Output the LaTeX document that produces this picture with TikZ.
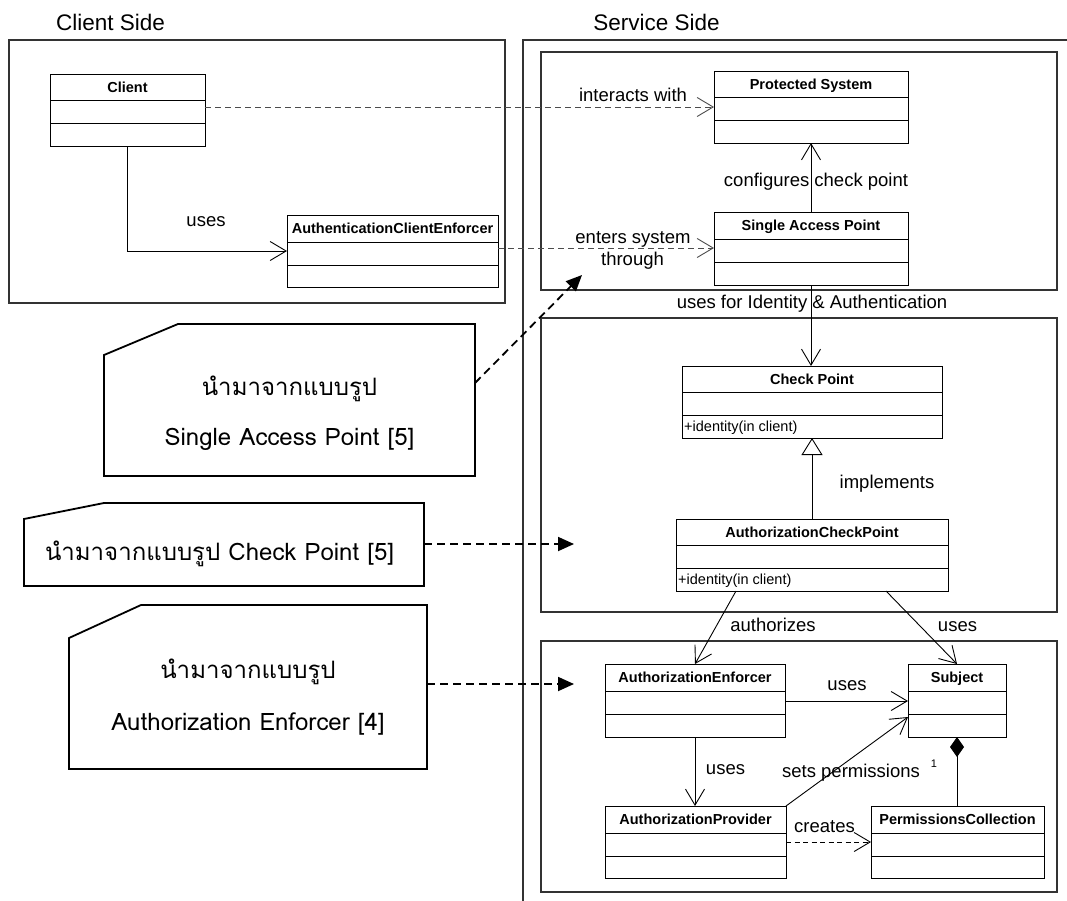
\documentclass[tikz,border=0pt]{standalone}
\usepackage{fontspec}
\setmainfont{Liberation Sans}
\newfontfamily\thaifont[Script=Thai]{Loma}
\usetikzlibrary{arrows.meta}

\tikzset{
  frame/.style={draw=black!80, line width=1.3pt},
  classbox/.style={draw=black, line width=1pt, rectangle, inner sep=0pt, outer sep=0pt},
  divider/.style={draw=black, line width=1pt},
  hdr/.style={font=\fontsize{14.5}{16}\selectfont\bfseries, inner sep=0pt, text height=10.4pt, text depth=0pt},
  opr/.style={font=\fontsize{14.5}{16}\selectfont, inner sep=0pt, anchor=west, text height=10.4pt, text depth=0pt},
  lbl/.style={font=\fontsize{18.5}{21}\selectfont, inner sep=0pt, text height=13.3pt, text depth=0pt},
  ttl/.style={font=\fontsize{22.5}{26}\selectfont, inner sep=0pt, text height=16pt, text depth=0pt},
  mult/.style={font=\fontsize{11}{13}\selectfont, inner sep=0pt},
  assoc/.style={draw=black, line width=0.9pt, -{Straight Barb[length=16pt,width=19pt]}},
  depend/.style={assoc, draw=black!70, dash pattern=on 6pt off 4pt},
  creates/.style={assoc, dash pattern=on 5pt off 3.5pt},
  generalize/.style={draw=black, line width=0.9pt, -{Triangle[open,length=17pt,width=21pt,fill=white]}},
  composite/.style={draw=black, line width=0.9pt, -{Diamond[length=20pt,width=14pt]}},
  notebox/.style={draw=black, line width=1.8pt, line join=miter},
  noteline/.style={draw=black, line width=1.8pt, dash pattern=on 8pt off 5pt, -{Triangle[length=16pt,width=14pt]}},
  notetext/.style={font=\thaifont\fontsize{24}{28}\selectfont, inner sep=0pt, anchor=base}
}

% UML class: name, x1, y1, x2, y2, first divider, second divider, title
\newcommand\umlclass[8]{%
  \node[classbox, minimum width=(#4-#2)*1pt, minimum height=(#5-#3)*1pt] (#1) at ({(#2+#4)/2},{(#3+#5)/2}) {};
  \draw[divider] (#1.west |- 0,#6) -- (#1.east |- 0,#6) (#1.west |- 0,#7) -- (#1.east |- 0,#7);
  \node[hdr] (#1-title) at ({(#2+#4)/2},{(#3+#6)/2}) {#8};
}

\begin{document}
\begin{tikzpicture}[x=1pt,y=-1pt]
\useasboundingbox (0,0) rectangle (1067,900);

% titles
\node[ttl] (clientside) at (110.5,22) {Client Side};
\node[ttl] (serviceside) at (656.5,22) {Service Side};

% frames
\draw[frame] (9,40) rectangle (505,303);
\draw[frame] (1068,40) -- (523,40) -- (523,901);
\draw[frame] (541,52) rectangle (1057,290);
\draw[frame] (541,318) rectangle (1057,612);
\draw[frame] (541,641) rectangle (1057,892);

% classes
\umlclass{cl}{50}{74}{205}{146}{100}{123}{Client}
\umlclass{ace}{287}{215}{498}{287}{242}{265}{AuthenticationClientEnforcer}
\umlclass{ps}{714}{71}{908}{143}{97}{120}{Protected System}
\umlclass{sap}{714}{212}{908}{285}{239}{262}{Single Access Point}
\umlclass{cp}{682}{366}{942}{438}{392}{415}{Check Point}
\node[opr] (cp-op) at (684,426.5) {+identity(in client)};
\umlclass{acp}{676}{519}{948}{591}{545}{568}{AuthorizationCheckPoint}
\node[opr] (acp-op) at (678,579.5) {+identity(in client)};
\umlclass{ae}{605}{664}{785}{737}{691}{714}{AuthorizationEnforcer}
\umlclass{sub}{908}{664}{1006}{737}{691}{714}{Subject}
\umlclass{ap}{605}{806}{786}{878}{833}{856}{AuthorizationProvider}
\umlclass{pc}{871}{806}{1044}{878}{833}{856}{PermissionsCollection}

% client side relations
\draw[assoc] (cl.south) |- (ace.west |- 0,251);
\node[lbl] (l-uses1) at (206,219.5) {uses};
\draw[depend] (cl.east |- 0,107) -- (ps.west |- 0,107);
\node[lbl] (l-inter) at (633,94.4) {interacts with};
\draw[depend] (ace.east |- 0,248) -- (sap.west |- 0,248);
\node[lbl] (l-enter1) at (633,236.5) {enters system};
\node[lbl] (l-enter2) at (632.5,258.5) {through};

% service side relations
\draw[assoc] (sap.north) -- (ps.south);
\node[lbl] (l-conf) at (816,180) {configures check point};
\draw[assoc] (sap.south) -- (sap.south |- cp.north);
\node[lbl] (l-ident) at (812,301.5) {uses for Identity \& Authentication};
\draw[generalize] (acp.north) -- (acp.north |- cp.south);
\node[lbl] (l-impl) at (887,481.5) {implements};
\draw[assoc] (acp.south -| 736,0) -- (ae.north -| 695,0);
\node[lbl] (l-auth) at (773,624.5) {authorizes};
\draw[assoc] (acp.south -| 886,0) -- (sub.north);
\node[lbl] (l-uses2) at (957.5,624.5) {uses};
\draw[assoc] (ae.east |- 0,701) -- (sub.west |- 0,701);
\node[lbl] (l-uses3) at (847,683.5) {uses};
\draw[assoc] (ae.south -| 695,0) -- (ap.north -| 695,0);
\node[lbl] (l-uses4) at (725.5,767.5) {uses};
\draw[assoc] (ap.north east) -- (sub.west |- 0,717);
\node[lbl] (l-sets) at (851,770.5) {sets permissions};
\draw[creates] (ap.east |- 0,842) -- (pc.west |- 0,842);
\node[lbl] (l-creates) at (824.5,825.5) {creates};
\draw[composite] (pc.north -| 957,0) -- (sub.south -| 957,0);
\node[mult] (l-one) at (934,763.5) {1};

% pattern notes
\draw[notebox] (104,355) -- (178,324) -- (475,324) -- (475,476) -- (104,476) -- cycle;
\node[notetext] (n1a) at (289.5,395) {นำมาจากแบบรูป};
\node[notetext] (n1b) at (289.5,445.5) {Single Access Point [5]};
\coordinate (n1out) at (475,383);
\coordinate (n1in) at (582,275);
\draw[noteline] (n1out) -- (n1in);

\draw[notebox] (24,519) -- (104,503) -- (424,503) -- (424,586) -- (24,586) -- cycle;
\node[notetext] (n2a) at (219.5,560) {นำมาจากแบบรูป Check Point [5]};
\coordinate (n2out) at (424,544);
\coordinate (n2in) at (574,544);
\draw[noteline] (n2out) -- (n2in);

\draw[notebox] (69,638) -- (141,605) -- (427,605) -- (427,769) -- (69,769) -- cycle;
\node[notetext] (n3a) at (248,678) {นำมาจากแบบรูป};
\node[notetext] (n3b) at (248,730) {Authorization Enforcer [4]};
\coordinate (n3out) at (427,684);
\coordinate (n3in) at (574,684);
\draw[noteline] (n3out) -- (n3in);
\end{tikzpicture}
\end{document}
